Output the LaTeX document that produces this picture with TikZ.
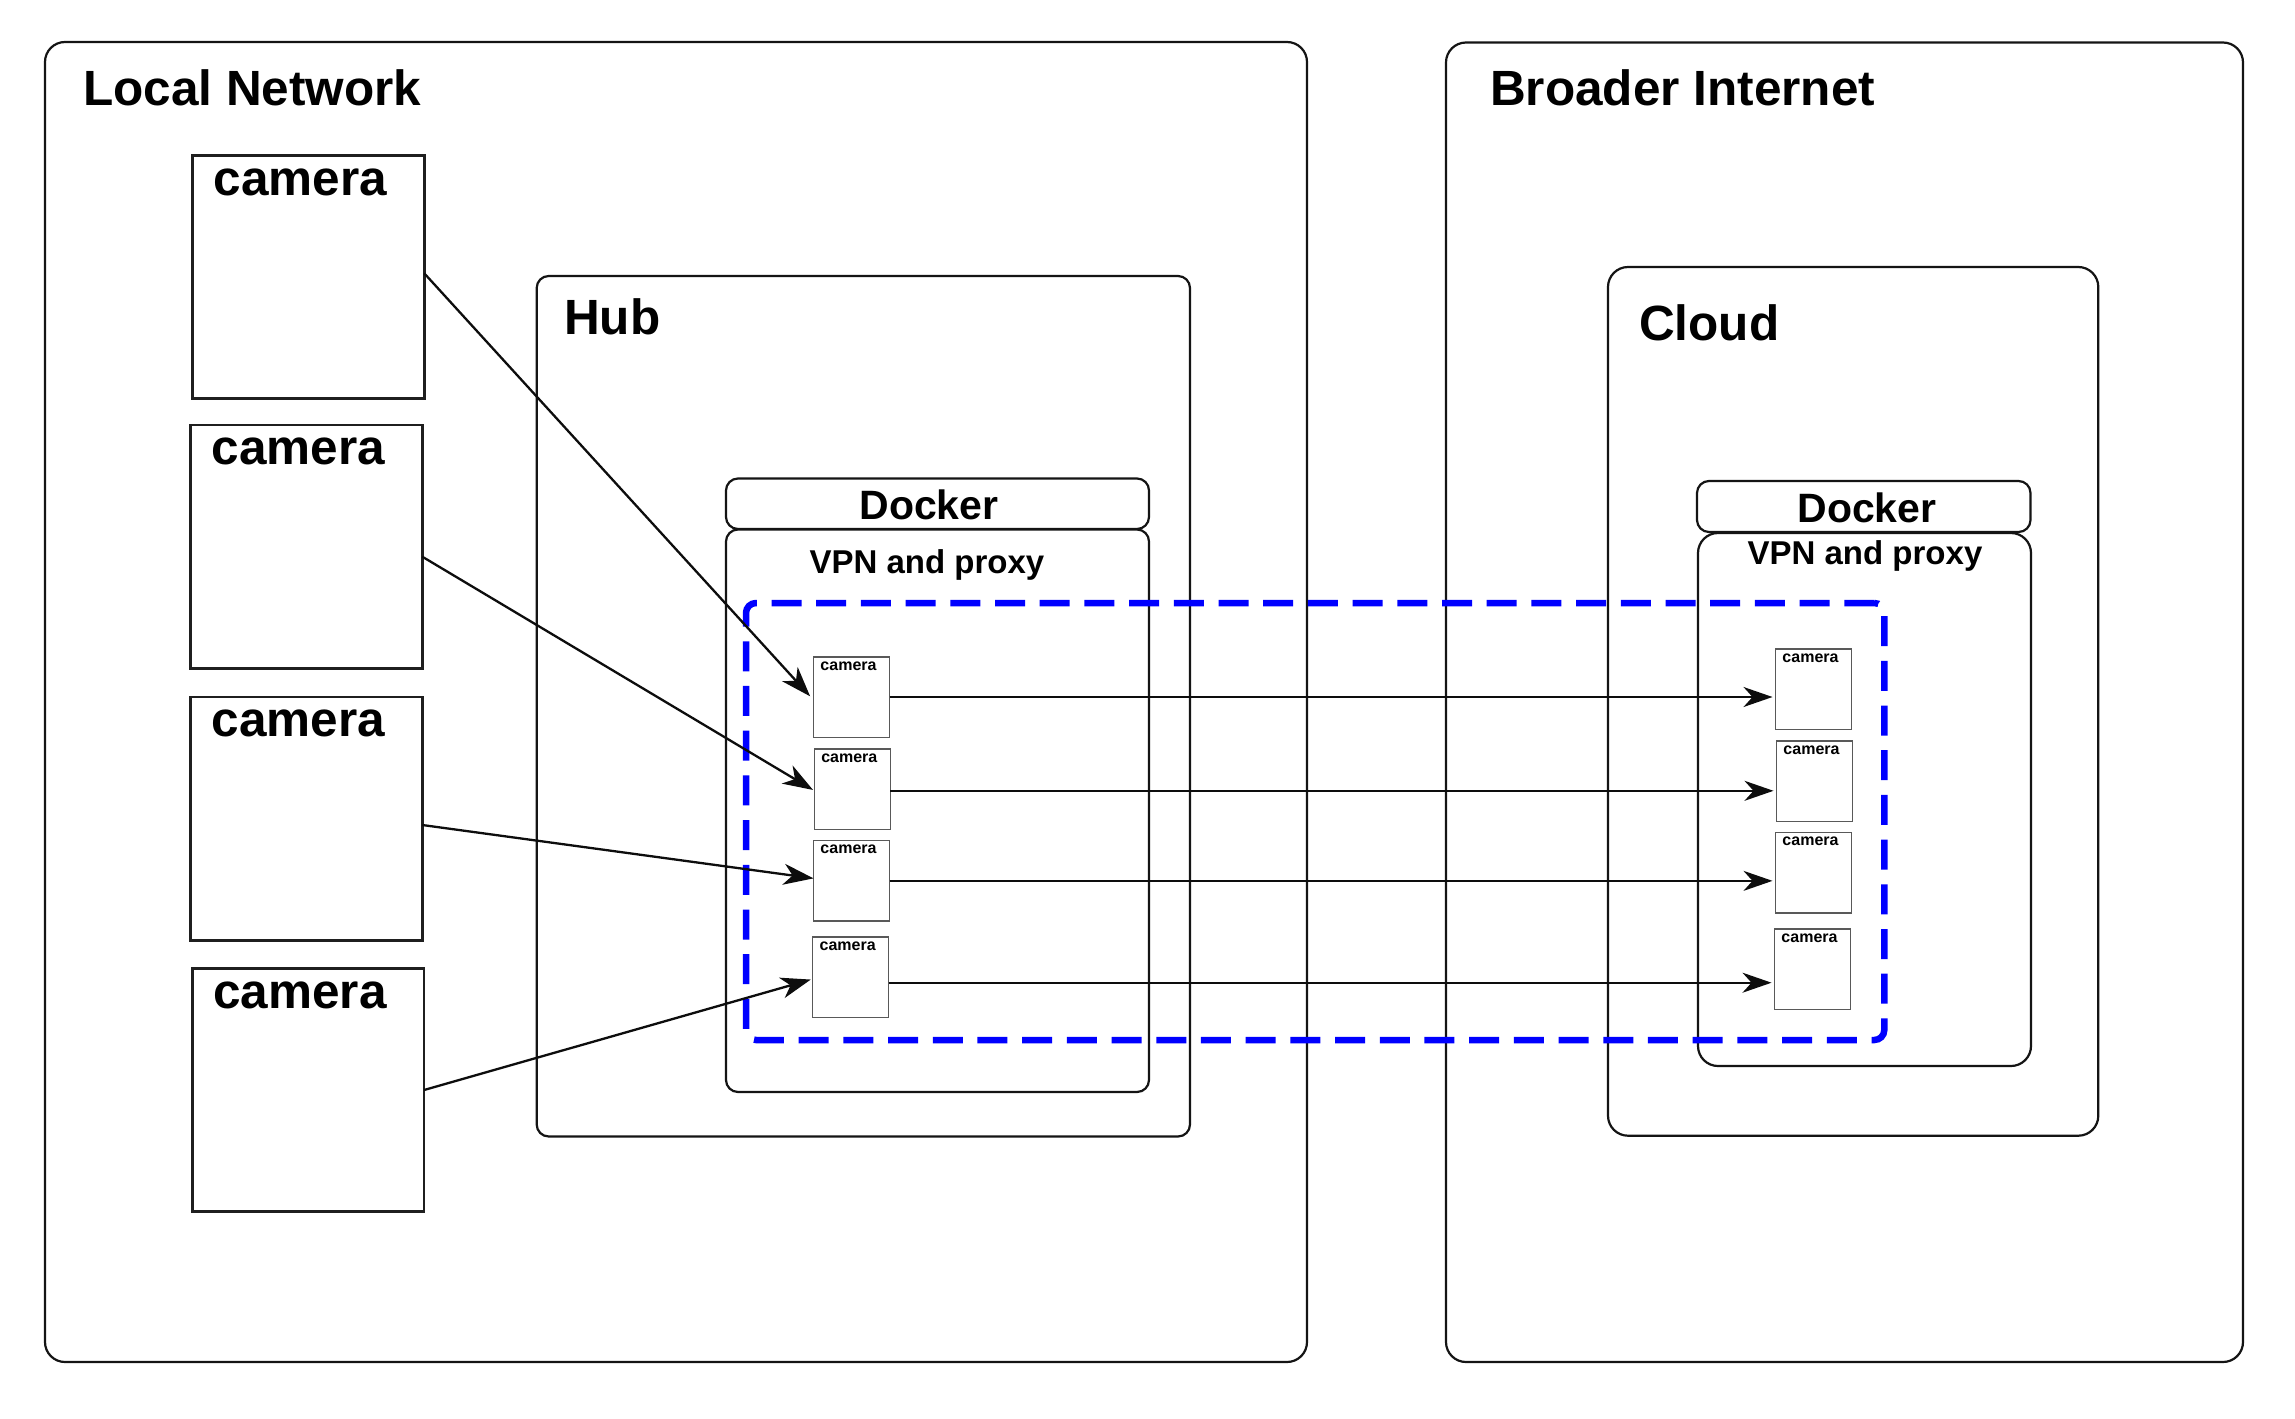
\documentclass[tikz,border=0pt]{standalone}
\usepackage{fontspec}
\setmainfont{Liberation Sans}
\usetikzlibrary{arrows.meta}
\begin{document}
\begin{tikzpicture}[x=1pt,y=-1pt,
  container/.style={draw=black!92, line width=2.2pt, rounded corners=20pt, fill=white, inner sep=0pt, outer sep=0pt},
  hubbox/.style={draw=black!92, line width=2.2pt, rounded corners=12pt, fill=white, inner sep=0pt, outer sep=0pt},
  bigcam/.style={draw=black!88, line width=2.6pt, fill=white, inner sep=0pt, outer sep=0pt, minimum width=231.5pt, minimum height=243.5pt},
  smallcam/.style={draw=black!65, line width=1.5pt, fill=white, inner sep=0pt, outer sep=0pt, minimum width=76pt, minimum height=80.5pt},
  title/.style={inner sep=0pt, font=\bfseries\fontsize{49.5}{59}\selectfont},
  dockertxt/.style={inner sep=0pt, anchor=base, font=\bfseries\fontsize{41}{49}\selectfont},
  vpntxt/.style={inner sep=0pt, anchor=base, font=\bfseries\fontsize{33}{40}\selectfont},
  bigcamtxt/.style={inner sep=0pt, anchor=base west, font=\bfseries\fontsize{49.5}{59}\selectfont},
  smallcamtxt/.style={inner sep=0pt, anchor=base, font=\bfseries\fontsize{16}{19}\selectfont},
  tunnel/.style={draw={rgb,255:red,0;green,0;blue,255}, line width=6.5pt, rounded corners=10pt, dash pattern=on 30pt off 14.7pt, inner sep=0pt, outer sep=0pt},
  feed/.style={draw=black!95, line width=2.3pt, -{Stealth[length=30pt, width=21pt, inset=9pt]}},
  relay/.style={draw=black!95, line width=1.8pt, -{Stealth[length=29pt, width=20pt, inset=9pt]}}
]
\useasboundingbox (0,0) rectangle (2295,1419);

% outer containers
\node[container, minimum width=1262pt, minimum height=1320pt] (local) at (676,702) {};
\node[container, minimum width=797pt, minimum height=1319.5pt] (broader) at (1844.5,702.25) {};
\node[title, anchor=base west] (tlocal) at (83,105) {Local Network};
\node[title, anchor=base west] (tbroader) at (1490,105) {Broader Internet};

% hub and cloud
\node[hubbox, minimum width=653.3pt, minimum height=860.5pt] (hub) at (863.35,706.25) {};
\node[container, minimum width=490.3pt, minimum height=868.7pt] (cloud) at (1853.15,701.35) {};
\node[title, anchor=base west] (thub) at (564,334) {Hub};
\node[title, anchor=base west] (tcloud) at (1639,340) {Cloud};

% docker boxes
\node[hubbox, minimum width=423pt, minimum height=50.5pt] (hdock) at (937.5,503.75) {};
\node[hubbox, minimum width=423pt, minimum height=562.5pt] (hvpn) at (937.5,810.75) {};
\node[dockertxt] (thdock) at (929,519) {Docker};
\node[vpntxt] (thvpn) at (927,573.3) {VPN and proxy};

\node[container, minimum width=333.5pt, minimum height=51pt, rounded corners=12pt] (cdock) at (1863.75,506.5) {};
\node[container, minimum width=333pt, minimum height=533pt] (cvpn) at (1864.5,799.5) {};
\node[dockertxt] (tcdock) at (1867,522.5) {Docker};
\node[vpntxt] (tcvpn) at (1865,564) {VPN and proxy};

% tunnel
\node[tunnel, minimum width=1138.3pt, minimum height=437pt] (tun) at (1315.15,821.5) {};

% big cameras
\node[bigcam] (c1) at (308.5,277) {};
\node[bigcam] (c2) at (306.5,546.65) {};
\node[bigcam] (c3) at (306.5,818.7) {};
\node[bigcam] (c4) at (308.35,1090) {};
\foreach \c in {c1,c2,c3,c4}{
  \node[bigcamtxt] (t\c) at ([xshift=20.6pt,yshift=-40pt]\c.north west) {camera};
}

% small cameras in hub
\node[smallcam] (h1) at (851.5,697) {};
\node[smallcam] (h2) at (852.3,789) {};
\node[smallcam] (h3) at (851.5,880.85) {};
\node[smallcam] (h4) at (850.7,977) {};
% small cameras in cloud
\node[smallcam] (k1) at (1813.5,689) {};
\node[smallcam] (k2) at (1814.5,781) {};
\node[smallcam] (k3) at (1813.5,872.85) {};
\node[smallcam] (k4) at (1812.5,969.15) {};
\foreach \c in {h1,h2,h3,h4,k1,k2,k3,k4}{
  \node[smallcamtxt] (t\c) at ([xshift=-3pt,yshift=-13.3pt]\c.north) {camera};
}

% feeds from cameras to hub
\draw[feed, shorten >=5pt] ([yshift=3.7pt]c1.east) -- ([yshift=-3pt]h1.west);
\draw[feed, shorten >=1.5pt] ([yshift=-10pt]c2.east) -- ([yshift=-1.7pt]h2.west);
\draw[feed] ([yshift=-6.3pt]c3.east) -- ([yshift=2.5pt]h3.west);
\draw[feed, shorten >=2pt] (c4.east) -- ([yshift=-2pt]h4.west);

% relays from hub to cloud
\draw[relay, shorten >=3pt] (h1.east) -- (h1.east -| k1.west);
\draw[relay, shorten >=3pt] ([yshift=-1.8pt]h2.east) -- ([yshift=-1.8pt]h2.east -| k2.west);
\draw[relay, shorten >=3pt] (h3.east) -- (h3.east -| k3.west);
\draw[relay, shorten >=3pt] ([yshift=-5.7pt]h4.east) -- ([yshift=-5.7pt]h4.east -| k4.west);
\end{tikzpicture}
\end{document}
